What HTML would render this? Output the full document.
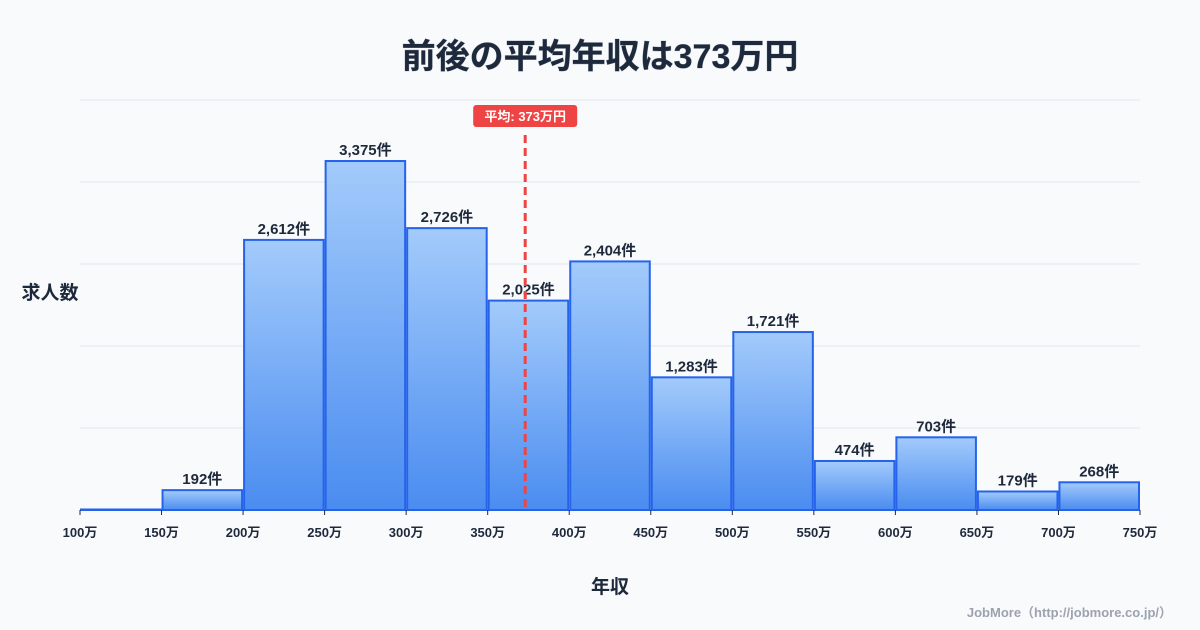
<!DOCTYPE html>
<html><head><meta charset="utf-8"><style>
body{margin:0;background:#f8fafc;}
svg{display:block;font-family:"Liberation Sans","Noto Sans CJK JP",sans-serif;}
</style></head><body>
<svg id="c" width="1200" height="630" viewBox="0 0 1200 630">
<defs><linearGradient id="g" x1="0" y1="0" x2="0" y2="1"><stop offset="0" stop-color="#a3cbfb"/><stop offset="1" stop-color="#4a8cf0"/></linearGradient></defs>
<rect width="1200" height="630" fill="#f8fafc"/>
<text x="600" y="68" text-anchor="middle" font-size="34" font-weight="bold" fill="#1e293b" style="paint-order:stroke" stroke="#9aa7b8" stroke-width="0.6">前後の平均年収は373万円</text>
<text x="50" y="299" text-anchor="middle" font-size="19" font-weight="bold" fill="#1e293b">求人数</text>
<text x="610" y="593" text-anchor="middle" font-size="19" font-weight="bold" fill="#1e293b">年収</text>
<text x="1172" y="617" text-anchor="end" font-size="13" font-weight="bold" fill="#9ca3af">JobMore（http://jobmore.co.jp/）</text>
<g id="grid"></g><g id="bars"></g><g id="ticks"></g><g id="mean"></g>
</svg>
<script>
const binStarts=[100,150,200,250,300,350,400,450,500,550,600,650,700];
const counts=[5,192,2612,3375,2726,2025,2404,1283,1721,474,703,179,268];
const tickLabels=[100,150,200,250,300,350,400,450,500,550,600,650,700,750];
const meanValue=373;
const NS="http://www.w3.org/2000/svg";
const x0=80,x1=1140,xmin=100,xmax=750,yb=510,yt=100,ymax=3965;
const X=v=>x0+(v-xmin)/(xmax-xmin)*(x1-x0);
const Y=v=>yb-v/ymax*(yb-yt);
function el(t,a,p){const e=document.createElementNS(NS,t);for(const k in a)e.setAttribute(k,a[k]);document.getElementById(p).appendChild(e);return e;}
for(let i=0;i<=5;i++){const y=yt+i*(yb-yt)/5;const l=el('line',{x1:x0,x2:x1,y1:y,y2:y,stroke:'#e2e8f0','stroke-width':1},'grid');

}
binStarts.forEach((b,i)=>{const xa=X(b)+1,xb=X(b+50)-1,y=Y(counts[i]);
const r=el('rect',{x:xa,y:y,width:xb-xa,height:yb-y,fill:'url(#g)',stroke:'#2563eb','stroke-width':2},'bars');


if(counts[i]>50){const t=el('text',{x:(xa+xb)/2,y:y-6,'text-anchor':'middle','font-size':15,'font-weight':'bold',fill:'#1e293b'},'bars');t.textContent=counts[i].toLocaleString('en-US')+'件';

}});
tickLabels.forEach(v=>{const x=X(v);const l=el('line',{x1:x,x2:x,y1:yb,y2:yb+5,stroke:'#1e293b','stroke-width':1},'ticks');


const t=el('text',{x:x,y:537,'text-anchor':'middle','font-size':13,'font-weight':'bold',fill:'#1e293b'},'ticks');t.textContent=v+'万';

});
const mx=X(meanValue);
const ml=el('line',{x1:mx,x2:mx,y1:135,y2:yb,stroke:'#ef4444','stroke-width':3,'stroke-dasharray':'8 5'},'mean');


const mb=el('rect',{x:mx-52,y:105,width:104,height:22,rx:3,fill:'#ef4444'},'mean');


const mt=el('text',{x:mx,y:121,'text-anchor':'middle','font-size':13,'font-weight':'bold',fill:'#fff'},'mean');mt.textContent='平均: '+meanValue+'万円';


</script>
</body></html>
